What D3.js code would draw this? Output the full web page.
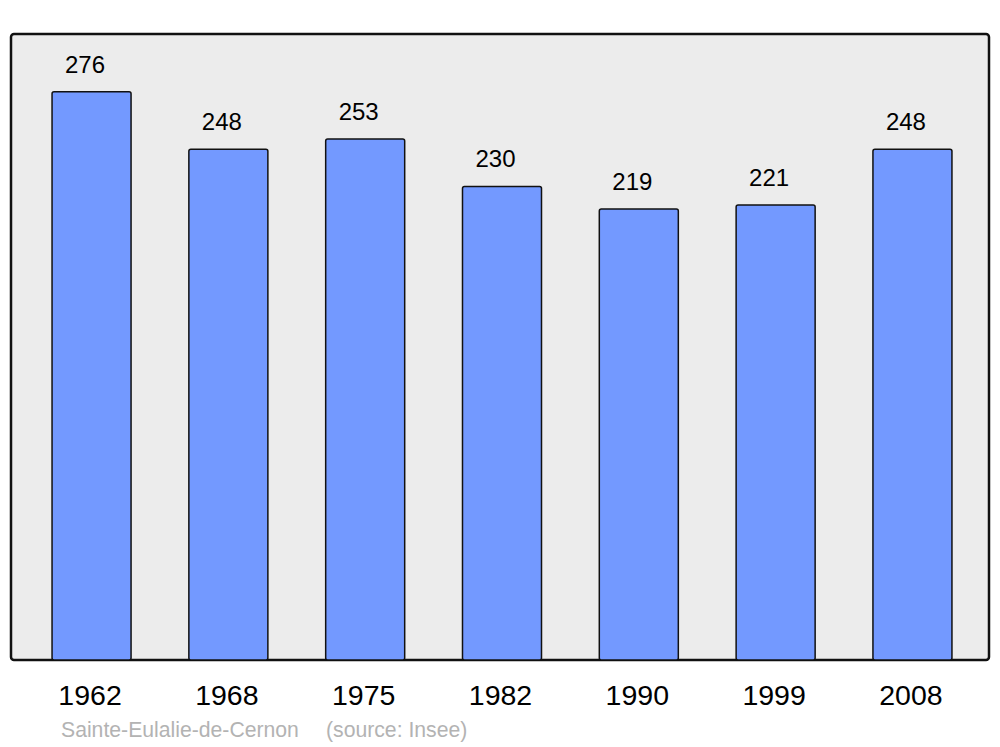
<!DOCTYPE html>
<html>
<head>
    <meta charset="utf-8">
    <title>Sainte-Eulalie-de-Cernon population</title>
    <script src="https://d3js.org/d3.v7.min.js" charset="utf-8"></script>
    <style>
        html, body { margin: 0; padding: 0; background: #fff; }
        text { font-family: "Liberation Sans", Arial, sans-serif; }
    </style>
</head>
<body>
<div id="chart"></div>
<script>
    // data
    const years = ["1962", "1968", "1975", "1982", "1990", "1999", "2008"];
    const population = [276, 248, 253, 230, 219, 221, 248];
    const placeName = "Sainte-Eulalie-de-Cernon";
    const sourceNote = "(source: Insee)";

    const width = 1000, height = 747;
    const panel = { left: 11, top: 34, right: 989, bottom: 660 };

    const svg = d3.select("#chart").append("svg")
        .attr("width", width)
        .attr("height", height);

    // background panel
    svg.append("rect")
        .attr("x", panel.left)
        .attr("y", panel.top)
        .attr("width", panel.right - panel.left)
        .attr("height", panel.bottom - panel.top)
        .attr("rx", 3)
        .attr("fill", "#ececec")
        .attr("stroke", "#111")
        .attr("stroke-width", 2.5);

    const x = d3.scaleBand()
        .domain(years)
        .range([11, 993])
        .paddingInner(0.4225)
        .paddingOuter(0.3);

    const y = d3.scaleLinear()
        .domain([0, 304])
        .range([panel.bottom, panel.top]);

    const data = years.map((yr, i) => ({ year: yr, value: population[i] }));

    svg.selectAll(".bar")
        .data(data)
        .enter()
        .append("rect")
        .attr("class", "bar")
        .attr("x", d => x(d.year))
        .attr("y", d => y(d.value))
        .attr("width", x.bandwidth())
        .attr("height", d => y(0) - y(d.value))
        .attr("rx", 2)
        .attr("fill", "#7399ff")
        .attr("stroke", "#111")
        .attr("stroke-width", 1.5);

    // value labels
    svg.selectAll(".value")
        .data(data)
        .enter()
        .append("text")
        .attr("class", "value")
        .attr("x", d => x(d.year) + x.bandwidth() / 2 - 6.5)
        .attr("y", d => y(d.value) - 19)
        .attr("text-anchor", "middle")
        .style("font-size", "24px")
        .attr("fill", "#000")
        .text(d => d.value);

    // year labels
    svg.selectAll(".year")
        .data(data)
        .enter()
        .append("text")
        .attr("class", "year")
        .attr("x", d => x(d.year) + x.bandwidth() / 2 - 1.5)
        .attr("y", 705)
        .attr("text-anchor", "middle")
        .style("font-size", "28.5px")
        .attr("fill", "#000")
        .text(d => d.year);

    // footer
    svg.append("text")
        .attr("x", 61)
        .attr("y", 737)
        .style("font-size", "21.2px")
        .attr("fill", "#b3b3b3")
        .text(placeName);

    svg.append("text")
        .attr("x", 326)
        .attr("y", 737)
        .style("font-size", "21.2px")
        .attr("fill", "#b3b3b3")
        .text(sourceNote);
</script>
</body>
</html>
